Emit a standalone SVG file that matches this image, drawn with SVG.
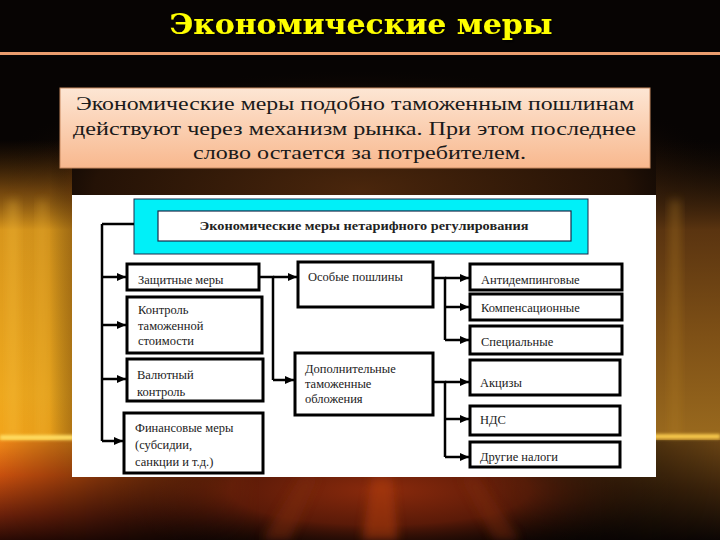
<svg xmlns="http://www.w3.org/2000/svg" width="720" height="540" viewBox="0 0 720 540">
<defs>
<linearGradient id="gLv" x1="0" y1="140" x2="0" y2="440" gradientUnits="userSpaceOnUse">
<stop offset="0" stop-color="#5a3008" stop-opacity="0"/><stop offset="0.17" stop-color="#8a5410" stop-opacity="0.8"/><stop offset="0.3" stop-color="#d8961c"/><stop offset="0.85" stop-color="#eea81e"/><stop offset="1" stop-color="#f2a41a"/>
</linearGradient>
<linearGradient id="gLh" x1="0" y1="0" x2="1" y2="0">
<stop offset="0" stop-color="#000" stop-opacity="0"/><stop offset="0.7" stop-color="#000" stop-opacity="0.05"/><stop offset="1" stop-color="#3a1a04" stop-opacity="0.35"/>
</linearGradient>
<linearGradient id="gRv" x1="0" y1="140" x2="0" y2="440" gradientUnits="userSpaceOnUse">
<stop offset="0" stop-color="#1e1006" stop-opacity="0"/><stop offset="0.3" stop-color="#5a3410"/><stop offset="0.65" stop-color="#7e5016"/><stop offset="1" stop-color="#9a6a1e"/>
</linearGradient>
<linearGradient id="gLB" x1="0" y1="440" x2="0" y2="540" gradientUnits="userSpaceOnUse">
<stop offset="0" stop-color="#f08a18"/><stop offset="0.35" stop-color="#c8500e"/><stop offset="0.75" stop-color="#6a200a"/><stop offset="1" stop-color="#2a0a04"/>
</linearGradient>
<linearGradient id="gLBh" x1="0" y1="0" x2="1" y2="0">
<stop offset="0" stop-color="#fff" stop-opacity="1"/><stop offset="1" stop-color="#fff" stop-opacity="0"/>
</linearGradient>
<mask id="mLB"><rect x="0" y="440" width="260" height="100" fill="url(#gLBh)"/></mask>
<linearGradient id="gRB" x1="0" y1="440" x2="0" y2="540" gradientUnits="userSpaceOnUse">
<stop offset="0" stop-color="#6a4414"/><stop offset="0.5" stop-color="#3a220a"/><stop offset="1" stop-color="#0c0604"/>
</linearGradient>
<linearGradient id="gRBh" x1="0" y1="0" x2="1" y2="0">
<stop offset="0" stop-color="#fff" stop-opacity="0"/><stop offset="1" stop-color="#fff" stop-opacity="1"/>
</linearGradient>
<mask id="mRB"><rect x="480" y="440" width="240" height="100" fill="url(#gRBh)"/></mask>
<radialGradient id="gB" cx="380" cy="490" r="1" gradientUnits="userSpaceOnUse" gradientTransform="translate(380 490) scale(300 70) translate(-380 -490)">
<stop offset="0" stop-color="#8a2a0c"/><stop offset="0.5" stop-color="#5a1a08"/><stop offset="1" stop-color="#1a0804" stop-opacity="0"/>
</radialGradient>
<radialGradient id="gM" cx="360" cy="190" r="1" gradientUnits="userSpaceOnUse" gradientTransform="translate(360 190) scale(380 120) translate(-360 -190)">
<stop offset="0" stop-color="#4a260c"/><stop offset="0.7" stop-color="#241206"/><stop offset="1" stop-color="#0a0503" stop-opacity="0"/>
</radialGradient>
<linearGradient id="boxG" x1="0" y1="0" x2="0" y2="1">
<stop offset="0" stop-color="#fde6d4"/><stop offset="1" stop-color="#f8b88e"/>
</linearGradient>
<filter id="blur" x="-20%" y="-300%" width="140%" height="700%"><feGaussianBlur stdDeviation="1.8"/></filter>
<filter id="blur4" x="-50%" y="-50%" width="200%" height="200%"><feGaussianBlur stdDeviation="5"/></filter>
<filter id="sh" x="-5%" y="-20%" width="110%" height="150%"><feDropShadow dx="2" dy="2" stdDeviation="0.8" flood-color="#000" flood-opacity="0.8"/></filter>
<marker id="arr" markerUnits="userSpaceOnUse" markerWidth="9" markerHeight="8" refX="9" refY="4" orient="auto">
<path d="M0,0 L9,4 L0,8 z" fill="#000"/>
</marker>
</defs>
<style>
.box{fill:#fff;stroke:#000;stroke-width:3}
.t{font-size:12.5px;fill:#222}
.c{fill:none;stroke:#000;stroke-width:2.5}
.a{fill:none;stroke:#000;stroke-width:2.5;marker-end:url(#arr)}
.p{font-size:19px;fill:#1a1a1a}
</style>
<!-- background -->
<rect width="720" height="540" fill="#070403"/>
<rect width="720" height="540" fill="url(#gM)"/>
<rect x="0" y="140" width="72" height="300" fill="url(#gLv)"/>
<rect x="0" y="140" width="72" height="300" fill="url(#gLh)"/>
<rect x="8" y="200" width="10" height="240" fill="#f8c040" opacity="0.35" filter="url(#blur4)"/>
<rect x="38" y="200" width="8" height="240" fill="#f6bc3a" opacity="0.3" filter="url(#blur4)"/>
<rect x="656" y="140" width="64" height="300" fill="url(#gRv)"/>
<rect x="670" y="200" width="10" height="240" fill="#b07a24" opacity="0.4" filter="url(#blur4)"/>
<rect x="0" y="476" width="720" height="64" fill="url(#gB)"/>
<rect x="0" y="440" width="260" height="100" fill="url(#gLB)" mask="url(#mLB)"/>
<rect x="480" y="440" width="240" height="100" fill="url(#gRB)" mask="url(#mRB)"/>
<polygon points="372,477 392,477 398,540 362,540" fill="#b03c10" opacity="0.55" filter="url(#blur4)"/>
<polygon points="300,477 318,477 290,540 262,540" fill="#7a2a0c" opacity="0.5" filter="url(#blur4)"/>
<polygon points="460,477 478,477 520,540 494,540" fill="#7a2a0c" opacity="0.45" filter="url(#blur4)"/>
<rect x="0" y="435" width="74" height="5" fill="#ffdc60" filter="url(#blur)"/>
<rect x="654" y="434" width="66" height="5" fill="#ffd050" opacity="0.9" filter="url(#blur)"/>
<!-- title -->
<text x="361" y="34" text-anchor="middle" font-family="'DejaVu Serif','Liberation Serif',serif" font-weight="bold" font-size="28" fill="#ffff00" textLength="383" lengthAdjust="spacingAndGlyphs" filter="url(#sh)">Экономические меры</text>
<rect x="0" y="52" width="720" height="3" fill="#eb9d6e"/>
<!-- text box -->
<g id="intro" font-family="'Liberation Serif','Times New Roman','DejaVu Serif',serif">
<rect x="60" y="88" width="590" height="80" fill="url(#boxG)" stroke="#c88a60" stroke-width="1"/>
<text class="p" x="355" y="110" text-anchor="middle" textLength="558" lengthAdjust="spacingAndGlyphs">Экономические меры подобно таможенным пошлинам</text>
<text class="p" x="354.5" y="135" text-anchor="middle" textLength="563" lengthAdjust="spacingAndGlyphs">действуют через механизм рынка. При этом последнее</text>
<text class="p" x="359.5" y="159" text-anchor="middle" textLength="333" lengthAdjust="spacingAndGlyphs">слово остается за потребителем.</text>
</g>
<!-- panel -->
<rect x="72" y="195" width="584" height="282" fill="#fff"/>
<g font-family="'Liberation Serif','Times New Roman','DejaVu Serif',serif">
<g id="root">
<rect x="134" y="199" width="454" height="55" fill="#00f0f8" stroke="#1a2a4a" stroke-width="1"/>
<rect x="158" y="211" width="413" height="30" fill="#fff" stroke="#1a2a4a" stroke-width="1.2"/>
<text class="t" x="364" y="230" text-anchor="middle" font-weight="bold" textLength="329" lengthAdjust="spacingAndGlyphs">Экономические меры нетарифного регулирования</text>
</g>
<g id="connectors">
<path class="c" d="M102,224 V441 M102,224 H134"/>
<path class="a" d="M102,277 H126"/>
<path class="a" d="M102,325 H126"/>
<path class="a" d="M102,379 H126"/>
<path class="a" d="M102,441 H123"/>
<path class="c" d="M259,277 H273 V380"/>
<path class="a" d="M273,277 H297"/>
<path class="a" d="M273,380 H294"/>
<path class="c" d="M433,278 H445 V340"/>
<path class="a" d="M445,278 H469"/>
<path class="a" d="M445,307 H469"/>
<path class="a" d="M445,340 H469"/>
<path class="c" d="M433,382 H445 V457"/>
<path class="a" d="M445,382 H469"/>
<path class="a" d="M445,419 H469"/>
<path class="a" d="M445,457 H469"/>
</g>
<g id="n-zashch"><rect class="box" x="127" y="264" width="132" height="26"/><text class="t" x="138" y="284">Защитные меры</text></g>
<g id="n-kontrol"><rect class="box" x="127" y="297" width="135" height="56"/><text class="t" x="138" y="314">Контроль</text><text class="t" x="138" y="330">таможенной</text><text class="t" x="138" y="345">стоимости</text></g>
<g id="n-valut"><rect class="box" x="127" y="359" width="136" height="42"/><text class="t" x="137" y="379">Валютный</text><text class="t" x="137" y="396">контроль</text></g>
<g id="n-fin"><rect class="box" x="124" y="413" width="139" height="60"/><text class="t" x="135" y="432">Финансовые меры</text><text class="t" x="135" y="449">(субсидии,</text><text class="t" x="135" y="466">санкции и т.д.)</text></g>
<g id="n-osob"><rect class="box" x="298" y="262" width="135" height="45"/><text class="t" x="308" y="281">Особые пошлины</text></g>
<g id="n-dop"><rect class="box" x="295" y="353" width="138" height="62"/><text class="t" x="305" y="373">Дополнительные</text><text class="t" x="305" y="388">таможенные</text><text class="t" x="305" y="403">обложения</text></g>
<g id="n-anti"><rect class="box" x="470" y="264" width="152" height="26"/><text class="t" x="481" y="284">Антидемпинговые</text></g>
<g id="n-komp"><rect class="box" x="470" y="294" width="152" height="26"/><text class="t" x="481" y="312">Компенсационные</text></g>
<g id="n-spec"><rect class="box" x="470" y="326" width="152" height="28"/><text class="t" x="481" y="346">Специальные</text></g>
<g id="n-akciz"><rect class="box" x="470" y="360" width="150" height="35"/><text class="t" x="480" y="387">Акцизы</text></g>
<g id="n-nds"><rect class="box" x="470" y="406" width="150" height="29"/><text class="t" x="480" y="424">НДС</text></g>
<g id="n-drug"><rect class="box" x="470" y="442" width="150" height="25"/><text class="t" x="480" y="461">Другие налоги</text></g>
</g>
</svg>
